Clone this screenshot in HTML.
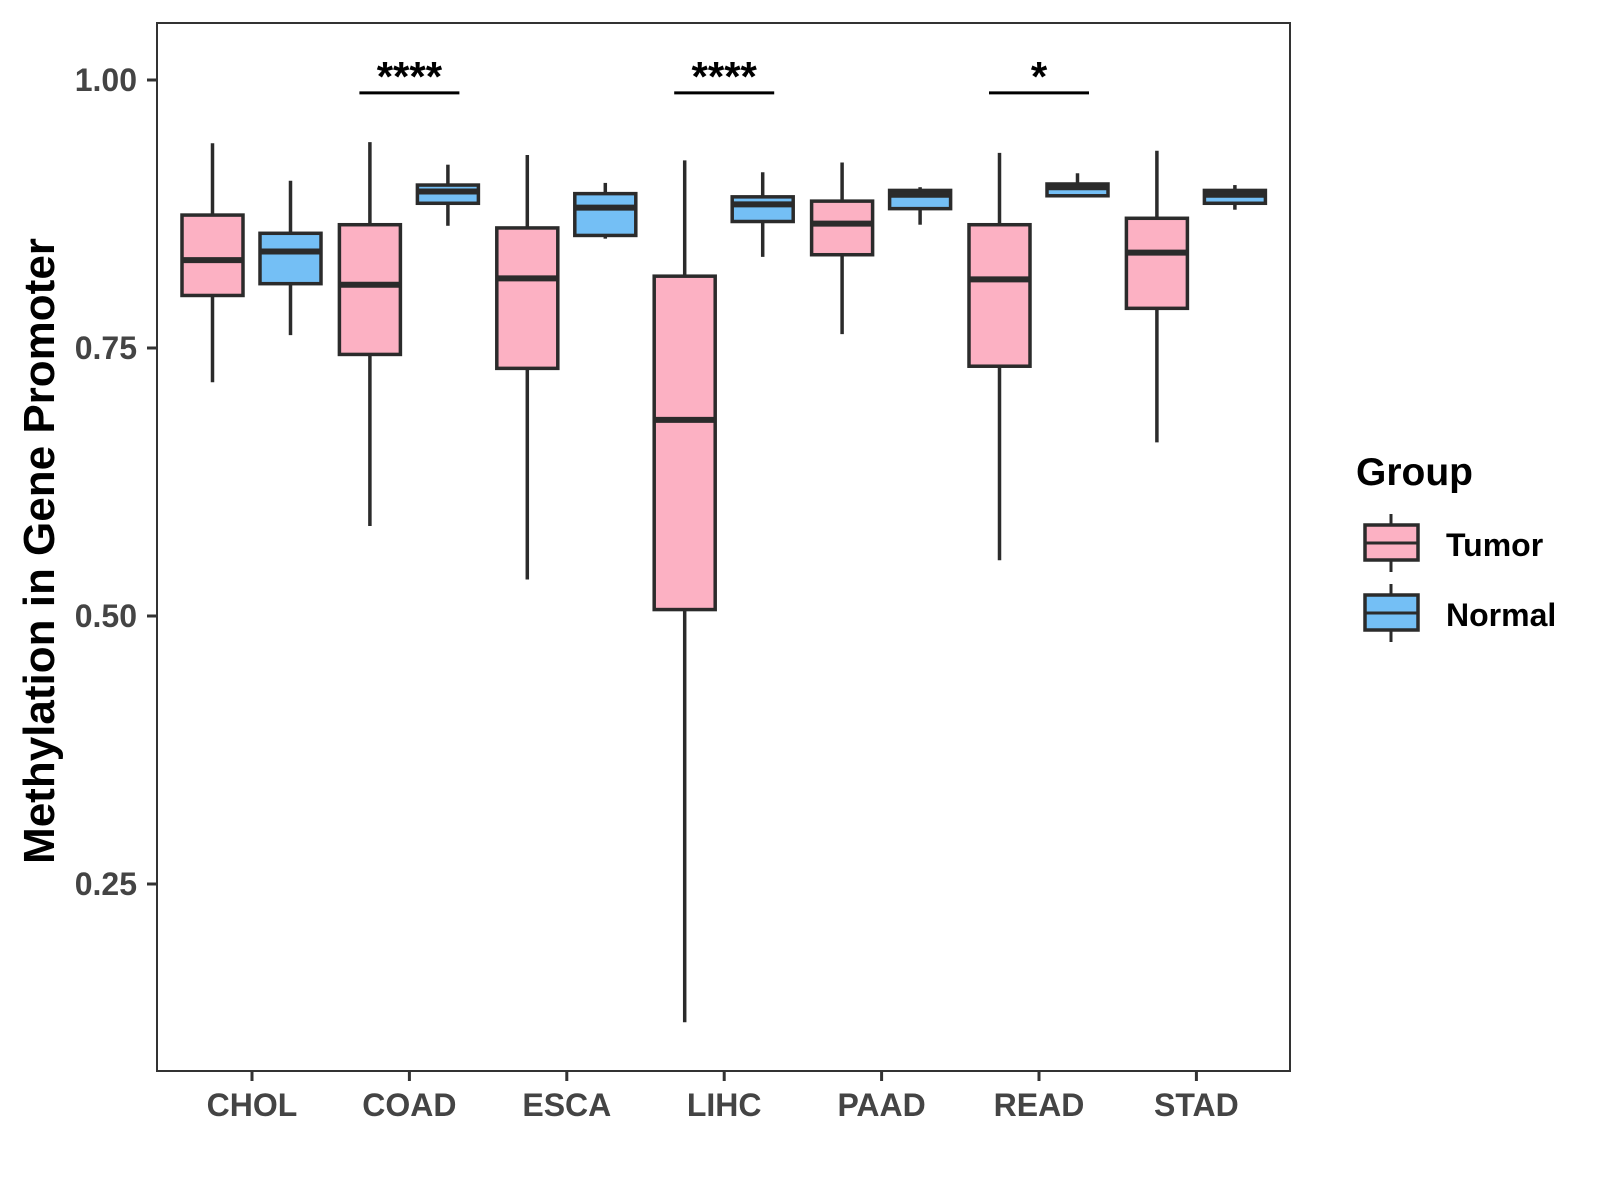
<!DOCTYPE html>
<html><head><meta charset="utf-8"><style>
html,body{margin:0;padding:0;background:#fff;}
svg{display:block;font-family:"Liberation Sans",Arial,sans-serif;}
</style></head><body>
<svg id="chart" width="1600" height="1200" viewBox="0 0 1600 1200" xmlns="http://www.w3.org/2000/svg">
<rect x="157" y="23" width="1133" height="1048" fill="#fff" stroke="#333" stroke-width="2"/>
<g id="marks"></g>
<text x="0" y="0" transform="translate(54,551) rotate(-90)" text-anchor="middle" font-size="44" font-weight="bold" fill="#000">Methylation in Gene Promoter</text>
<g>
<text x="1356" y="485" font-size="39" font-weight="bold" fill="#000">Group</text>
<g>
<line x1="1391" y1="514" x2="1391" y2="572" stroke="#2b2b2b" stroke-width="3"/>
<rect x="1365" y="525" width="53" height="35" fill="#fcb1c3" stroke="#2b2b2b" stroke-width="3.5"/>
<line x1="1365" y1="543" x2="1418" y2="543" stroke="#2b2b2b" stroke-width="3"/>
<text x="1446" y="556" font-size="32" font-weight="bold" fill="#000">Tumor</text>
</g>
<g>
<line x1="1391" y1="584" x2="1391" y2="642" stroke="#2b2b2b" stroke-width="3"/>
<rect x="1365" y="595" width="53" height="35" fill="#74bff5" stroke="#2b2b2b" stroke-width="3.5"/>
<line x1="1365" y1="613" x2="1418" y2="613" stroke="#2b2b2b" stroke-width="3"/>
<text x="1446" y="626" font-size="32" font-weight="bold" fill="#000">Normal</text>
</g>
</g>
</svg>
<script>
const categories = ["CHOL","COAD","ESCA","LIHC","PAAD","READ","STAD"];
const yTicks = [0.25,0.50,0.75,1.00];
const yTickLabels = ["0.25","0.50","0.75","1.00"];
// [lower whisker, Q1, median, Q3, upper whisker]
const tumorStats = [
 [0.718,0.799,0.832,0.874,0.941],
 [0.584,0.744,0.809,0.865,0.942],
 [0.534,0.731,0.815,0.862,0.930],
 [0.121,0.506,0.683,0.817,0.925],
 [0.763,0.837,0.866,0.887,0.923],
 [0.552,0.733,0.814,0.865,0.932],
 [0.662,0.787,0.839,0.871,0.934]
];
const normalStats = [
 [0.762,0.810,0.840,0.857,0.906],
 [0.864,0.885,0.896,0.902,0.921],
 [0.852,0.855,0.881,0.894,0.904],
 [0.835,0.868,0.884,0.891,0.914],
 [0.865,0.880,0.893,0.897,0.900],
 [0.891,0.892,0.900,0.903,0.913],
 [0.879,0.885,0.893,0.897,0.902]
];
const sigCategories = ["COAD","LIHC","READ"];
const sigLabels = ["****","****","*"];
const sigLevel = 0.988;

const NS="http://www.w3.org/2000/svg";
const g=document.getElementById('marks');
function y(v){return 80+(1-v)*1072;}
function x(i){return 252+i*157.4;}
function el(t,a){const e=document.createElementNS(NS,t);for(const k in a)e.setAttribute(k,a[k]);g.appendChild(e);return e;}

yTicks.forEach((v,i)=>{
 const t=el('line',{x1:147,x2:157,y1:y(v),y2:y(v),stroke:'#333','stroke-width':3});
 
 
 const l=el('text',{x:137,y:y(v)+11,'text-anchor':'end','font-size':32,'font-weight':'bold',fill:'#444'});
 l.textContent=yTickLabels[i];
 
 
});
categories.forEach((c,i)=>{
 const t=el('line',{x1:x(i),x2:x(i),y1:1071,y2:1081,stroke:'#333','stroke-width':3});
 
 
 const l=el('text',{x:x(i),y:1116,'text-anchor':'middle','font-size':32,'font-weight':'bold',fill:'#444'});
 l.textContent=c;
 
 
});
function box(cx,s,fill,name){
 const w=61;
 const wl=el('line',{x1:cx,x2:cx,y1:y(s[0]),y2:y(s[4]),stroke:'#2b2b2b','stroke-width':3.5});
 
 
 const r=el('rect',{x:cx-w/2,y:y(s[3]),width:w,height:y(s[1])-y(s[3]),fill:fill,stroke:'#2b2b2b','stroke-width':3.5});
 
 
 const m=el('line',{x1:cx-w/2,x2:cx+w/2,y1:y(s[2]),y2:y(s[2]),stroke:'#2b2b2b','stroke-width':6});
 
 
}
categories.forEach((c,i)=>{
 box(x(i)-39.5,tumorStats[i],'#fcb1c3','tumor-'+c.toLowerCase());
 box(x(i)+38.5,normalStats[i],'#74bff5','normal-'+c.toLowerCase());
});
sigCategories.forEach((c,k)=>{
 const i=categories.indexOf(c);
 const b=el('line',{x1:x(i)-50,x2:x(i)+50,y1:y(sigLevel),y2:y(sigLevel),stroke:'#000','stroke-width':3});
 
 
 const t=el('text',{x:x(i),y:y(sigLevel)-2,'text-anchor':'middle','font-size':42,'font-weight':'bold',fill:'#000'});
 t.textContent=sigLabels[k];
 
 
});
</script>
</body></html>
